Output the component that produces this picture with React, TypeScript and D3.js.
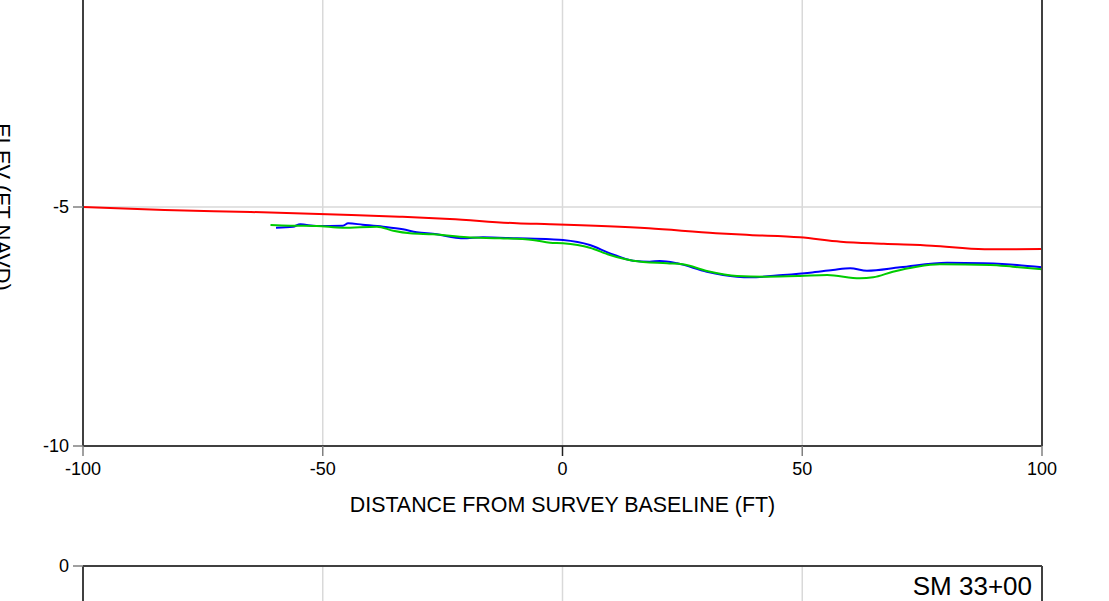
import React from "react";
import * as d3 from "d3";

const xTicks = [-100, -50, 0, 50, 100];
const yTicksTop = [-5, -10];
const yTicksBottom = [0];

const redX = [-100, -83, -65, -44, -34, -23.5, -9.5, -2.6, 18, 32, 39, 49.5, 58, 67, 77, 88, 100];
const redY = [-5.0, -5.063, -5.105, -5.167, -5.203, -5.25, -5.34, -5.36, -5.446, -5.55, -5.586, -5.634, -5.726, -5.77, -5.81, -5.885, -5.88];

const blueX = [-59.75, -56.2, -54.7, -51.3, -45.8, -44.7, -41.7, -37.4, -33.3, -30.4, -26.2, -23.5, -20.8, -16.6, -9.5, -2.6, 0.1, 5.7, 9.9, 14.7, 18.2, 20.3, 23.9, 30.1, 36.4, 39.1, 46.0, 51.6, 56.4, 60.0, 63.5, 70.4, 80.2, 87.7, 94.8, 100];
const blueY = [-5.433, -5.412, -5.362, -5.397, -5.391, -5.341, -5.37, -5.412, -5.467, -5.529, -5.571, -5.621, -5.655, -5.634, -5.655, -5.676, -5.69, -5.795, -5.969, -6.123, -6.144, -6.13, -6.178, -6.354, -6.458, -6.471, -6.423, -6.374, -6.318, -6.282, -6.333, -6.262, -6.165, -6.178, -6.213, -6.262];

const greenX = [-60.9, -56.8, -51.3, -45.8, -38.7, -35.3, -31.8, -27.0, -19.9, -13.0, -6.2, -2.6, 0.1, 5.7, 9.9, 14.7, 21.8, 25.1, 30.1, 36.4, 42.6, 49.5, 55.2, 62.0, 64.8, 68.9, 73.9, 78.7, 89.2, 93.9, 100];
const greenY = [-5.377, -5.391, -5.397, -5.433, -5.412, -5.496, -5.55, -5.571, -5.634, -5.655, -5.69, -5.747, -5.759, -5.851, -6.004, -6.123, -6.178, -6.199, -6.339, -6.444, -6.458, -6.444, -6.423, -6.492, -6.471, -6.354, -6.249, -6.199, -6.213, -6.249, -6.303];

const W = 1109;
const H = 601;
const left = 83;
const right = 1042;
const topY0 = -32;
const topY1 = 446;
const botY0 = 566;
const botY1 = 566 + (446 + 32);

const FONT = "Liberation Sans, Arial, sans-serif";

export default function App() {
  const x = d3.scaleLinear().domain([-100, 100]).range([left, right]);
  const yTop = d3.scaleLinear().domain([0, -10]).range([topY0, topY1]);
  const yBot = d3.scaleLinear().domain([0, -10]).range([botY0, botY1]);

  const mk = (xs: number[], ys: number[]) =>
    d3
      .line<number>()
      .x((_, i) => x(xs[i]))
      .y((_, i) => yTop(ys[i]))
      .curve(d3.curveMonotoneX)(xs) || "";

  const gridX = [-50, 0, 50];
  const axisColor = "#404040";
  const gridColor = "#d9d9d9";
  const tickColor = "#808080";

  return (
    <svg
      width={W}
      height={H}
      style={{ position: "absolute", left: 0, top: 0, background: "#fff" }}
      fontFamily={FONT}
    >
      <rect x={0} y={0} width={W} height={H} fill="#fff" />
      {/* Top chart grid */}
      {gridX.map((v) => (
        <line key={"gt" + v} x1={x(v)} x2={x(v)} y1={yTop(0)} y2={yTop(-10)} stroke={gridColor} strokeWidth={1.5} />
      ))}
      <line x1={left} x2={right} y1={yTop(-5)} y2={yTop(-5)} stroke={gridColor} strokeWidth={1.5} />

      {/* Data */}
      <path d={mk(redX, redY)} fill="none" stroke="#ff0000" strokeWidth={2} />
      <path d={mk(blueX, blueY)} fill="none" stroke="#0000ff" strokeWidth={2} />
      <path d={mk(greenX, greenY)} fill="none" stroke="#00cc00" strokeWidth={2} />

      {/* Top chart frame */}
      <line x1={left} x2={left} y1={yTop(0)} y2={yTop(-10)} stroke={axisColor} strokeWidth={2} />
      <line x1={right} x2={right} y1={yTop(0)} y2={yTop(-10)} stroke={axisColor} strokeWidth={2} />
      <line x1={left} x2={right} y1={yTop(-10)} y2={yTop(-10)} stroke={axisColor} strokeWidth={2} />

      {/* Top y ticks */}
      {yTicksTop.map((v) => (
        <g key={"yt" + v}>
          <line x1={left - 10} x2={left} y1={yTop(v)} y2={yTop(v)} stroke={tickColor} strokeWidth={1.5} />
          <text x={left - 14} y={yTop(v)} dy="0.36em" textAnchor="end" fontSize={18} fill="#000">
            {v}
          </text>
        </g>
      ))}
      {/* x ticks */}
      {xTicks.map((v) => (
        <g key={"xt" + v}>
          <line x1={x(v)} x2={x(v)} y1={topY1} y2={topY1 + 10} stroke={v === 0 ? "#202020" : tickColor} strokeWidth={1.5} />
          <text x={x(v)} y={475} textAnchor="middle" fontSize={18} fill="#000">
            {v}
          </text>
        </g>
      ))}
      <text x={(left + right) / 2} y={512} textAnchor="middle" fontSize={21.4} fill="#000">
        DISTANCE FROM SURVEY BASELINE (FT)
      </text>
      <text
        transform={`translate(-5, ${(topY0 + topY1) / 2}) rotate(90)`}
        textAnchor="middle"
        fontSize={21.8}
        fill="#000"
      >
        ELEV (FT NAVD)
      </text>

      {/* Bottom chart */}
      {gridX.map((v) => (
        <line key={"gb" + v} x1={x(v)} x2={x(v)} y1={yBot(0)} y2={yBot(-10)} stroke={gridColor} strokeWidth={1.5} />
      ))}
      <line x1={left} x2={right} y1={yBot(0)} y2={yBot(0)} stroke={axisColor} strokeWidth={2} />
      <line x1={left} x2={left} y1={yBot(0)} y2={yBot(-10)} stroke={axisColor} strokeWidth={2} />
      <line x1={right} x2={right} y1={yBot(0)} y2={yBot(-10)} stroke={axisColor} strokeWidth={2} />
      {yTicksBottom.map((v) => (
        <g key={"yb" + v}>
          <line x1={left - 10} x2={left} y1={yBot(v)} y2={yBot(v)} stroke={tickColor} strokeWidth={1.5} />
          <text x={left - 14} y={yBot(v)} dy="0.36em" textAnchor="end" fontSize={18} fill="#000">
            {v}
          </text>
        </g>
      ))}
      <text x={right - 10} y={595} textAnchor="end" fontSize={26} fill="#000">
        SM 33+00
      </text>
    </svg>
  );
}
